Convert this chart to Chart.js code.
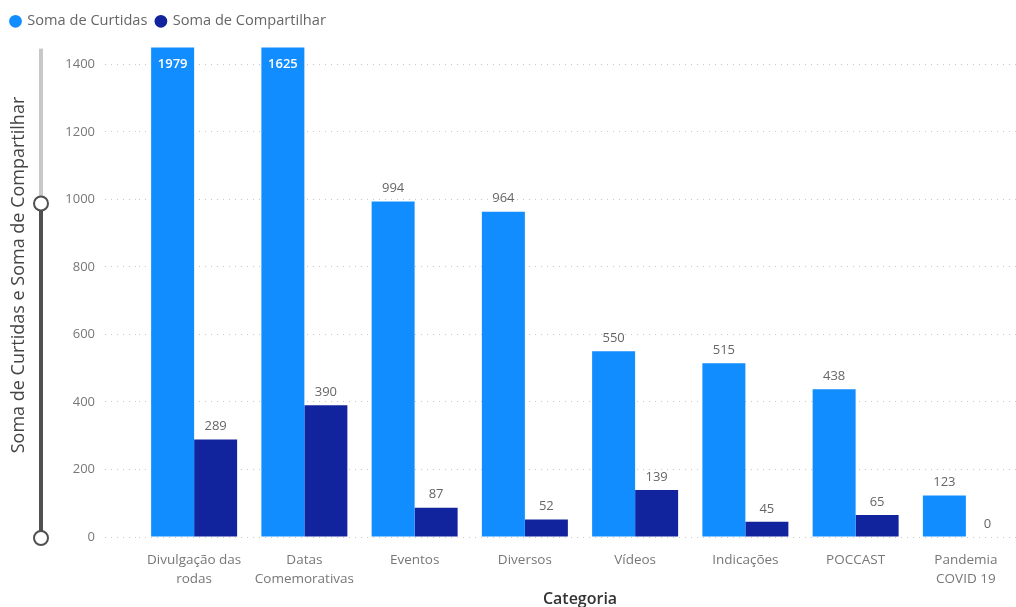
<!DOCTYPE html>
<html>
<head>
<meta charset="utf-8">
<script src="https://cdn.jsdelivr.net/npm/chart.js@4.4.1/dist/chart.umd.min.js"></script>
<style>
  html, body { margin: 0; padding: 0; background: #fff; overflow: hidden; }
  #wrap { width: 1024px; height: 607px; position: relative; }
</style>
</head>
<body>
<div id="wrap"><canvas id="c"></canvas></div>
<script>
// Categories and series values
const categories = [
  ['Divulgação das', 'rodas'],
  ['Datas', 'Comemorativas'],
  'Eventos',
  'Diversos',
  'Vídeos',
  'Indicações',
  'POCCAST',
  ['Pandemia', 'COVID 19']
];
const curtidas = [1979, 1625, 994, 964, 550, 515, 438, 123];
const compartilhar = [289, 390, 87, 52, 139, 45, 65, 0];
const yTicks = [0, 200, 400, 600, 800, 1000, 1200, 1400];
const yMax = 1450;
const sliderLow = 0;
const sliderHigh = 1000;
const yTitle = 'Soma de Curtidas e Soma de Compartilhar';

const FONT = '"Open Sans", "Noto Sans", sans-serif';

// Extra gap between the legend and the plot
const legendGap = {
  id: 'legendGap',
  beforeInit(chart) {
    const fit = chart.legend.fit;
    chart.legend.fit = function () {
      fit.call(this);
      this.height += 9;
    };
  }
};

// Value labels above each bar; bars cut off by the axis maximum get their label inside
const valueLabels = {
  id: 'valueLabels',
  afterDatasetsDraw(chart) {
    const ctx = chart.ctx;
    const ys = chart.scales.y;
    const top = chart.chartArea.top;
    ctx.save();
    ctx.textAlign = 'center';
    ctx.textBaseline = 'middle';
    chart.data.datasets.forEach((ds, i) => {
      chart.getDatasetMeta(i).data.forEach((bar, j) => {
        const v = ds.data[j];
        if (v > ys.max) {
          ctx.fillStyle = '#ffffff';
          ctx.font = '600 13px ' + FONT;
          ctx.fillText(String(v), bar.x, top + 17);
        } else {
          ctx.fillStyle = '#666666';
          ctx.font = '13px ' + FONT;
          ctx.fillText(String(v), bar.x, bar.y - 13);
        }
      });
    });
    ctx.restore();
  }
};

// Vertical zoom slider and the value-axis title
const zoomSlider = {
  id: 'zoomSlider',
  afterDraw(chart) {
    const ctx = chart.ctx;
    const ys = chart.scales.y;
    const x = 41;
    const yTop = chart.chartArea.top + 1;
    const yHi = ys.getPixelForValue(sliderHigh) + 4;
    const yLo = ys.getPixelForValue(sliderLow) + 1;
    ctx.save();
    ctx.lineCap = 'butt';
    ctx.lineWidth = 4;
    ctx.strokeStyle = '#c8c8c8';
    ctx.beginPath(); ctx.moveTo(x, yTop); ctx.lineTo(x, yHi); ctx.stroke();
    ctx.strokeStyle = '#505050';
    ctx.beginPath(); ctx.moveTo(x, yHi); ctx.lineTo(x, yLo); ctx.stroke();
    [yHi, yLo].forEach(y => {
      ctx.beginPath();
      ctx.arc(x, y, 7, 0, Math.PI * 2);
      ctx.fillStyle = '#ffffff';
      ctx.fill();
      ctx.lineWidth = 2;
      ctx.strokeStyle = '#505050';
      ctx.stroke();
    });

    ctx.translate(19, 275);
    ctx.rotate(-Math.PI / 2);
    ctx.textAlign = 'center';
    ctx.textBaseline = 'middle';
    ctx.fillStyle = '#444444';
    ctx.font = '18px ' + FONT;
    ctx.fillText(yTitle, 0, 0);
    ctx.restore();
  }
};

new Chart(document.getElementById('c'), {
  type: 'bar',
  data: {
    labels: categories,
    datasets: [
      { label: 'Soma de Curtidas', data: curtidas, backgroundColor: '#118DFF', borderWidth: 0 },
      { label: 'Soma de Compartilhar', data: compartilhar, backgroundColor: '#12239E', borderWidth: 0 }
    ]
  },
  options: {
    responsive: true,
    maintainAspectRatio: false,
    animation: false,
    datasets: { bar: { barPercentage: 1, categoryPercentage: 0.78 } },
    layout: { padding: { left: 2, right: 3, top: 5, bottom: 0 } },
    plugins: {
      tooltip: { enabled: false },
      legend: {
        position: 'top',
        align: 'start',
        labels: {
          usePointStyle: true,
          pointStyle: 'circle',
          boxWidth: 9,
          boxHeight: 9,
          padding: 9,
          color: '#666666',
          font: { family: FONT, size: 14.6 }
        }
      }
    },
    scales: {
      x: {
        offset: true,
        grid: { display: false, drawTicks: false },
        border: { display: false },
        ticks: {
          color: '#777777',
          font: { family: FONT, size: 13.5, lineHeight: 1.4 },
          padding: 14,
          maxRotation: 0,
          autoSkip: false
        },
        title: {
          display: true,
          text: 'Categoria',
          color: '#333333',
          font: { family: FONT, size: 16, weight: '600' },
          padding: { top: 0, bottom: -2 }
        },
        afterFit(s) { s.height = 70; }
      },
      y: {
        min: 0,
        max: yMax,
        afterBuildTicks(s) { s.ticks = yTicks.map(v => ({ value: v })); },
        grid: {
          color: '#c8c8c8',
          lineWidth: 1,
          drawTicks: true,
          tickLength: 34,
          tickColor: '#c8c8c8',
          tickBorderDash: [1, 5]
        },
        border: { display: false, dash: [1, 5] },
        ticks: {
          color: '#777777',
          font: { family: FONT, size: 13 },
          padding: 10,
          callback: v => String(v)
        },
        afterFit(s) { s.width = 137; }
      }
    }
  },
  plugins: [legendGap, valueLabels, zoomSlider]
});
</script>
</body>
</html>
